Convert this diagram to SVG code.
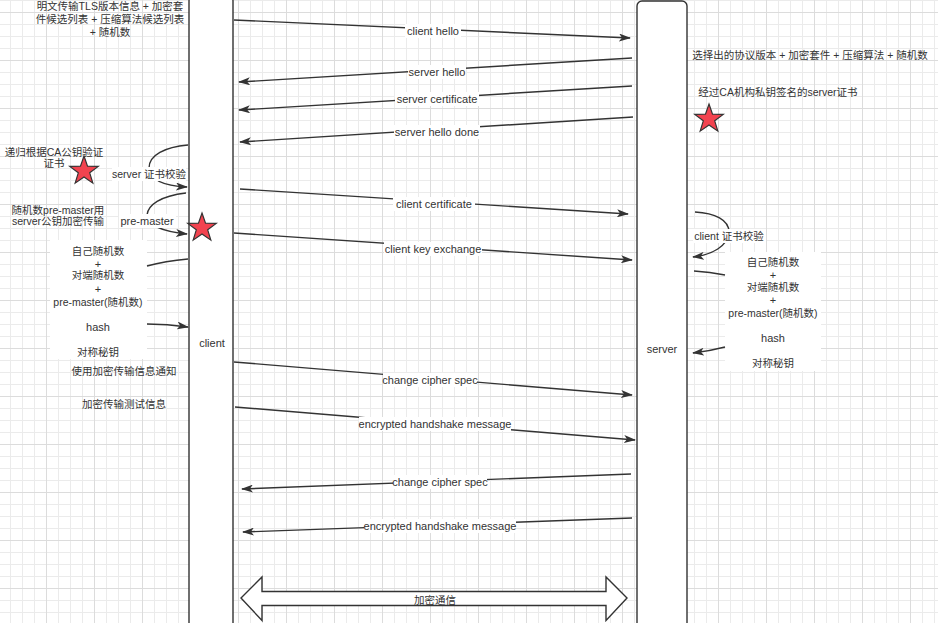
<svg xmlns="http://www.w3.org/2000/svg" width="938" height="623" viewBox="0 0 938 623">
<style>
text{font-family:"Liberation Sans","Noto Sans CJK SC",sans-serif;font-size:11px;fill:#333;text-anchor:middle}
.cj{font-size:10.5px}
.box{fill:#fff;stroke:#333;stroke-width:1.4}
.ln{fill:none;stroke:#333;stroke-width:1.4}
.lbl{fill:#fff;stroke:none}
.star{fill:#f2434f;stroke:#333;stroke-width:1.2}
</style>
<defs>
<pattern id="grid" patternUnits="userSpaceOnUse" x="46" y="12" width="48" height="48">
<rect x="12" y="0" width="1" height="48" fill="#ebebeb"/>
<rect x="24" y="0" width="1" height="48" fill="#ebebeb"/>
<rect x="36" y="0" width="1" height="48" fill="#ebebeb"/>
<rect x="0" y="12" width="48" height="1" fill="#ebebeb"/>
<rect x="0" y="24" width="48" height="1" fill="#ebebeb"/>
<rect x="0" y="36" width="48" height="1" fill="#ebebeb"/>
<rect x="0" y="0" width="1" height="48" fill="#dcdcdc"/>
<rect x="0" y="0" width="48" height="1" fill="#dcdcdc"/>
</pattern>
<marker id="arr" markerUnits="userSpaceOnUse" markerWidth="12" markerHeight="8" refX="11" refY="4" orient="auto">
<path d="M0,0 L12,4 L0,8 L3,4 Z" fill="#333"/>
</marker>
<polygon id="starShape" points="0,-15 3.53,-4.85 14.27,-4.64 5.71,1.85 8.82,12.14 0,6 -8.82,12.14 -5.71,1.85 -14.27,-4.64 -3.53,-4.85"/>
</defs>
<rect width="938" height="623" fill="#fff"/>
<rect width="938" height="623" fill="url(#grid)"/>

<g id="client">
<rect class="box" x="189" y="-4" width="44" height="640" rx="5"/>
<text x="212" y="347">client</text>
</g>
<g id="server">
<rect class="box" x="637" y="1" width="50" height="640" rx="5"/>
<text x="662" y="353">server</text>
</g>

<g id="note-client-hello">
<text class="cj" x="110" y="10">明文传输TLS版本信息 + 加密套</text>
<text class="cj" x="110" y="23">件候选列表 + 压缩算法候选列表</text>
<text class="cj" x="110" y="36">+ 随机数</text>
</g>
<g id="note-server-hello">
<text class="cj" x="810" y="59">选择出的协议版本 + 加密套件 + 压缩算法 + 随机数</text>
</g>
<g id="note-server-cert">
<text class="cj" x="778" y="96">经过CA机构私钥签名的server证书</text>
</g>
<g id="note-verify">
<text class="cj" x="54" y="156">递归根据CA公钥验证</text>
<text class="cj" x="54" y="167">证书</text>
</g>
<g id="note-premaster">
<text class="cj" x="58" y="214">随机数pre-master用</text>
<text class="cj" x="58" y="225">server公钥加密传输</text>
</g>
<g id="client-keys">
<rect x="50" y="240" width="97" height="119" fill="#fff"/>
<text class="cj" x="98" y="255">自己随机数</text>
<text x="98" y="268">+</text>
<text class="cj" x="98" y="279">对端随机数</text>
<text x="98" y="293">+</text>
<text class="cj" x="98" y="306">pre-master(随机数)</text>
<text x="98" y="331">hash</text>
<text class="cj" x="98" y="356">对称秘钥</text>
</g>
<g id="note-notify">
<text class="cj" x="124" y="375">使用加密传输信息通知</text>
</g>
<g id="note-test">
<text class="cj" x="124" y="408">加密传输测试信息</text>
</g>
<g id="server-keys">
<rect x="725" y="252" width="96" height="119" fill="#fff"/>
<text class="cj" x="773" y="266">自己随机数</text>
<text x="773" y="279">+</text>
<text class="cj" x="773" y="291">对端随机数</text>
<text x="773" y="304">+</text>
<text class="cj" x="773" y="317">pre-master(随机数)</text>
<text x="773" y="342">hash</text>
<text class="cj" x="773" y="367">对称秘钥</text>
</g>

<g id="stars">
<use href="#starShape" class="star" x="84" y="171"/>
<use href="#starShape" class="star" x="202" y="228"/>
<use href="#starShape" class="star" x="709" y="119"/>
</g>

<g id="connectors">
<line class="ln" x1="234" y1="20" x2="630" y2="38" marker-end="url(#arr)"/>
<line class="ln" x1="632" y1="58" x2="239" y2="82" marker-end="url(#arr)"/>
<line class="ln" x1="632" y1="86" x2="239" y2="110" marker-end="url(#arr)"/>
<line class="ln" x1="633" y1="117" x2="240" y2="142" marker-end="url(#arr)"/>
<line class="ln" x1="240" y1="189" x2="628" y2="214" marker-end="url(#arr)"/>
<line class="ln" x1="234" y1="233" x2="632" y2="260" marker-end="url(#arr)"/>
<line class="ln" x1="234" y1="362" x2="632" y2="395" marker-end="url(#arr)"/>
<line class="ln" x1="235" y1="407" x2="635" y2="440" marker-end="url(#arr)"/>
<line class="ln" x1="631" y1="474" x2="242" y2="489" marker-end="url(#arr)"/>
<line class="ln" x1="632" y1="518" x2="243" y2="532" marker-end="url(#arr)"/>

<path class="ln" d="M188,145 C165,147 149,155 149,168 C150,180 165,186 187,187" marker-end="url(#arr)"/>
<path class="ln" d="M186,193 C160,196 148,205 147,215 C148,226 165,232 187,234" marker-end="url(#arr)"/>
<path class="ln" d="M147,266 Q165,261 188,259"/>
<path class="ln" d="M147,324 Q167,324 188,327" marker-end="url(#arr)"/>
<path class="ln" d="M695,212 C715,213 729,220 729,232 C728,246 712,255 693,257" marker-end="url(#arr)"/>
<path class="ln" d="M694,271 Q710,272 725,275"/>
<path class="ln" d="M725,347 Q710,351 693,353" marker-end="url(#arr)"/>

<rect class="lbl" x="405" y="24" width="56" height="14"/>
<text x="433" y="35">client hello</text>
<rect class="lbl" x="408" y="65" width="58" height="14"/>
<text x="437" y="76">server hello</text>
<rect class="lbl" x="395" y="92" width="84" height="14"/>
<text x="437" y="103">server certificate</text>
<rect class="lbl" x="394" y="125" width="86" height="14"/>
<text x="437" y="136">server hello done</text>
<rect class="lbl" x="393" y="197" width="82" height="14"/>
<text x="434" y="208">client certificate</text>
<rect class="lbl" x="384" y="242" width="98" height="14"/>
<text x="433" y="253">client key exchange</text>
<rect class="lbl" x="383" y="373" width="94" height="14"/>
<text x="430" y="384">change cipher spec</text>
<rect class="lbl" x="359" y="417" width="152" height="14"/>
<text x="435" y="428">encrypted handshake message</text>
<rect class="lbl" x="393" y="475" width="94" height="14"/>
<text x="440" y="486">change cipher spec</text>
<rect class="lbl" x="364" y="519" width="152" height="14"/>
<text x="440" y="530">encrypted handshake message</text>

<rect class="lbl" x="112" y="167" width="74" height="14"/>
<text class="cj" x="149" y="178">server 证书校验</text>
<rect class="lbl" x="119" y="214" width="57" height="14"/>
<text x="147" y="225">pre-master</text>
<rect class="lbl" x="693" y="229" width="73" height="14"/>
<text class="cj" x="729" y="240">client 证书校验</text>

<polygon class="box" points="241,598 262,577 262,591.5 606,591.5 606,577 627,598 606,620.5 606,605.5 262,605.5 262,620.5"/>
<text class="cj" x="435" y="604">加密通信</text>
</g>
</svg>
